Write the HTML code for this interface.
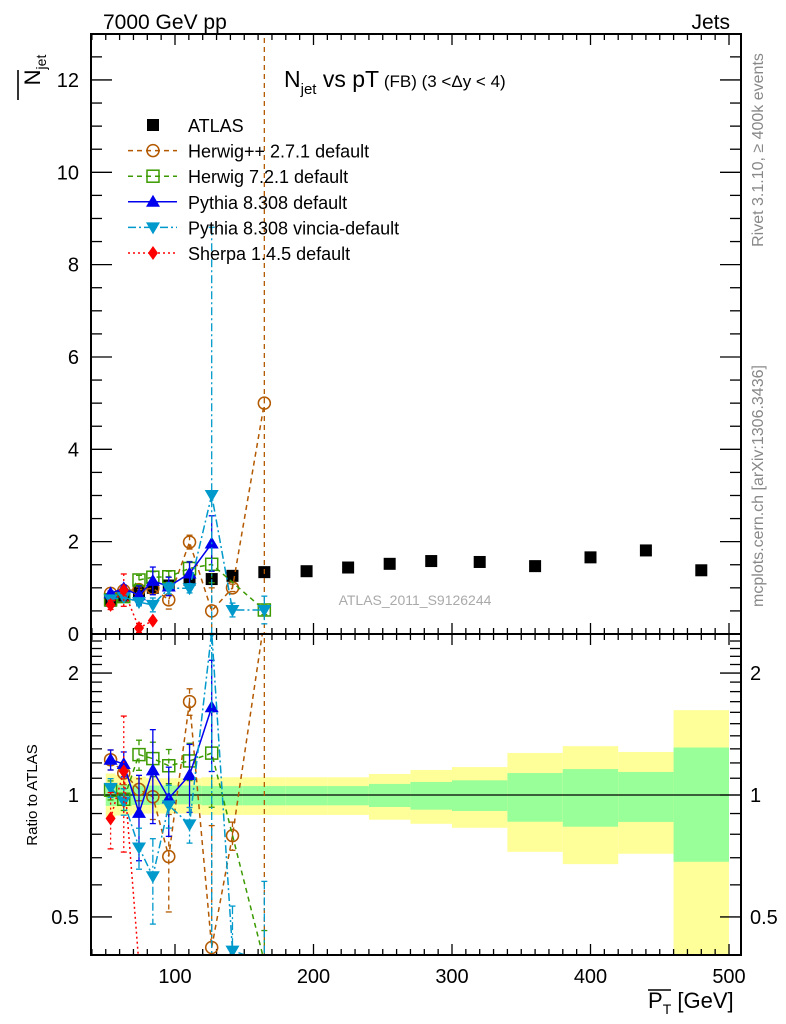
<!DOCTYPE html>
<html><head><meta charset="utf-8">
<style>
html,body{margin:0;padding:0;background:#fff;width:786px;height:1024px;overflow:hidden;}
svg{display:block;font-family:"Liberation Sans",sans-serif;}
</style></head>
<body>
<svg id="chart" width="786" height="1024" viewBox="0 0 786 1024">
<defs>
<clipPath id="clipMain"><rect x="91" y="34" width="650" height="600"/></clipPath>
<clipPath id="clipRatio"><rect x="91" y="634" width="650" height="321"/></clipPath>
</defs>
<g id="bands" clip-path="url(#clipRatio)"></g>
<g id="ticks"></g>
<line x1="91" y1="795" x2="741" y2="795" stroke="#000" stroke-width="1.3"/>
<g id="mainSeries" clip-path="url(#clipMain)"></g>
<g id="ratioSeries" clip-path="url(#clipRatio)"></g>
<rect x="91" y="34" width="650" height="600" fill="none" stroke="#000" stroke-width="2"/>
<rect x="91" y="634" width="650" height="321" fill="none" stroke="#000" stroke-width="2"/>
<text x="103" y="29" font-size="21">7000 GeV pp</text>
<text x="730" y="29" font-size="21" text-anchor="end">Jets</text>
<text x="284" y="87" font-size="23">N<tspan font-size="15" dy="7">jet</tspan><tspan dy="-7"> vs pT</tspan><tspan font-size="17"> (FB) (3 &lt;Δy &lt; 4)</tspan></text>
<g transform="translate(40,70) rotate(-90)">
<text x="0" y="0" font-size="22" text-anchor="middle">N<tspan font-size="14" dy="6">jet</tspan></text>
<line x1="-30" y1="-22" x2="0" y2="-22" stroke="#000" stroke-width="1.6"/>
</g>
<text transform="translate(37,795) rotate(-90)" font-size="15" text-anchor="middle">Ratio to ATLAS</text>
<text transform="translate(763,150) rotate(-90)" font-size="16" fill="#888" text-anchor="middle">Rivet 3.1.10, ≥ 400k events</text>
<text transform="translate(763,486) rotate(-90)" font-size="16" fill="#888" text-anchor="middle">mcplots.cern.ch [arXiv:1306.3436]</text>
<text x="415" y="605" font-size="14" fill="#aaa" text-anchor="middle">ATLAS_2011_S9126244</text>
<g>
<text x="648" y="1008" font-size="22">P<tspan font-size="14" dy="6">T</tspan><tspan dy="-6"> [GeV]</tspan></text>
<line x1="648" y1="990" x2="671" y2="990" stroke="#000" stroke-width="1.6"/>
</g>
<g id="legend"></g>
<script>
const binEdges=[50,57,69,79,89,102,119,134,149,180,210,240,270,300,340,380,420,460,500];
const atlasY=[0.72,0.83,0.93,1.0,1.05,1.17,1.19,1.26,1.34,1.36,1.44,1.52,1.58,1.56,1.47,1.66,1.81,1.38];
const bandInnerUp=[1.06,1.06,1.055,1.055,1.055,1.055,1.052,1.052,1.052,1.052,1.052,1.065,1.077,1.087,1.133,1.159,1.14,1.31];
const bandInnerDn=[0.94,0.94,0.945,0.945,0.948,0.948,0.943,0.943,0.943,0.943,0.943,0.934,0.920,0.913,0.859,0.835,0.858,0.684];
const bandOuterUp=[1.13,1.12,1.11,1.10,1.10,1.10,1.106,1.106,1.106,1.106,1.106,1.127,1.153,1.172,1.27,1.32,1.277,1.62];
const bandOuterDn=[0.88,0.89,0.90,0.90,0.90,0.90,0.893,0.893,0.893,0.893,0.893,0.869,0.849,0.83,0.724,0.675,0.716,0.30];
const herwigppY=[0.88,0.94,0.96,0.99,0.74,1.99,0.5,1.0,5.0];
const herwigppE=[0.05,0.06,0.06,0.12,0.2,0.15,0.5,0.08,9];
const herwig7Y=[0.74,0.81,1.17,1.23,1.24,1.42,1.51,null,0.52];
const herwig7E=[0.04,0.05,0.1,0.12,0.12,0.15,0.4,null,0.1];
const pythiaY=[0.88,0.99,0.84,1.15,1.03,1.31,1.96];
const pythiaE=[0.05,0.07,0.2,0.3,0.2,0.25,0.6];
const vinciaY=[0.75,0.80,0.69,0.63,0.99,0.99,3.01,0.52,0.52];
const vinciaE=[0.04,0.06,0.08,0.15,0.12,0.1,5.8,0.15,0.3];
const sherpaY=[0.63,0.95,0.13,0.29];
const sherpaE=[0.1,0.35,0.1,0.05];
const xTickLabels=["100","200","300","400","500"];
const yTickLabels=["0","2","4","6","8","10","12"];
const rTickLabels=["0.5","1","2"];
const legendLabels=["ATLAS","Herwig++ 2.7.1 default","Herwig 7.2.1 default","Pythia 8.308 default","Pythia 8.308 vincia-default","Sherpa 1.4.5 default"];

const NS="http://www.w3.org/2000/svg";
const clamp=(v,a,b)=>Math.min(b,Math.max(a,v));
const X=v=>36.5+1.385*v;
const Y=v=>clamp(634-46.17*v,20,645);
const R=v=>clamp(795-405*Math.log10(v),620,965);
const centers=binEdges.slice(0,-1).map((e,i)=>(e+binEdges[i+1])/2);
function mk(tag,attrs,parent){const e=document.createElementNS(NS,tag);for(const k in attrs)e.setAttribute(k,attrs[k]);parent.appendChild(e);return e;}

const bands=document.getElementById('bands');
centers.forEach((c,i)=>{
  const x0=X(binEdges[i]),x1=X(binEdges[i+1]);
  const o=mk('rect',{x:x0,y:R(bandOuterUp[i]),width:x1-x0,height:R(bandOuterDn[i])-R(bandOuterUp[i]),fill:'#ffff99'},bands);
  
  
  const g=mk('rect',{x:x0,y:R(bandInnerUp[i]),width:x1-x0,height:R(bandInnerDn[i])-R(bandInnerUp[i]),fill:'#99ff99'},bands);
  
  
});

const ticks=document.getElementById('ticks');
function tl(x1,y1,x2,y2){mk('line',{x1,y1,x2,y2,stroke:'#000','stroke-width':1.3},ticks);}
for(let v=40;v<=500;v+=10){
  const x=X(v);const maj=v%100===0;const L=maj?11:6;
  tl(x,34,x,34+L);tl(x,634,x,634-L);tl(x,634,x,634+L);tl(x,955,x,955-L);
}
xTickLabels.forEach(s=>{const t=mk('text',{x:X(+s),y:983,'font-size':20,'text-anchor':'middle'},ticks);t.textContent=s;
  
  });
for(let v=0;v<=13.001;v+=0.5){
  const y=Y(v);const maj=Math.abs(v%2)<1e-6;const L=maj?21:11;
  tl(91,y,91+L,y);tl(741,y,741-L,y);
}
yTickLabels.forEach(s=>{const t=mk('text',{x:79,y:Y(+s)+7,'font-size':20,'text-anchor':'end'},ticks);t.textContent=s;
  
  });
for(let k=4;k<=24;k++){
  const v=k/10;const y=795-405*Math.log10(v);if(y<634||y>955)continue;
  const maj=(k===5||k===10||k===20);const L=maj?21:11;
  tl(91,y,91+L,y);tl(741,y,741-L,y);
}
rTickLabels.forEach(s=>{const y=R(+s)+7;
  const t=mk('text',{x:79,y,'font-size':20,'text-anchor':'end'},ticks);t.textContent=s;
  
  
  const t2=mk('text',{x:750,y,'font-size':20},ticks);t2.textContent=s;
  
  });

function marker(p,type,x,y,color){
  let e;
  if(type==='sq')e=mk('rect',{x:x-6,y:y-6,width:12,height:12,fill:'#000'},p);
  else if(type==='circ')e=mk('circle',{cx:x,cy:y,r:6,fill:'none',stroke:color,'stroke-width':1.5},p);
  else if(type==='osq')e=mk('rect',{x:x-6,y:y-6,width:12,height:12,fill:'none',stroke:color,'stroke-width':1.5},p);
  else if(type==='up')e=mk('polygon',{points:`${x},${y-7} ${x-7},${y+5} ${x+7},${y+5}`,fill:color},p);
  else if(type==='dn')e=mk('polygon',{points:`${x},${y+7} ${x-7},${y-5} ${x+7},${y-5}`,fill:color},p);
  else if(type==='dia')e=mk('polygon',{points:`${x},${y-7} ${x-5},${y} ${x},${y+7} ${x+5},${y}`,fill:color},p);
  return e;
}
const series=[
  {vals:herwigppY,errs:herwigppE,color:'#b35900',dash:'5,4',mk:'circ',name:'herwigpp'},
  {vals:herwig7Y,errs:herwig7E,color:'#3b9a00',dash:'5,4',mk:'osq',name:'herwig7'},
  {vals:pythiaY,errs:pythiaE,color:'#0000ee',dash:'',mk:'up',name:'pythia'},
  {vals:vinciaY,errs:vinciaE,color:'#0099cc',dash:'8,3,2,3',mk:'dn',name:'vincia'},
  {vals:sherpaY,errs:sherpaE,color:'#ff0000',dash:'2,3',mk:'dia',name:'sherpa'}
];
const mainG=document.getElementById('mainSeries');
const ratG=document.getElementById('ratioSeries');
centers.forEach((c,i)=>{
  const m=marker(mainG,'sq',X(c),Y(atlasY[i]),'#000');
  
  
});
series.forEach(s=>{
  [[mainG,(v,i)=>Y(v)],[ratG,(v,i)=>R(Math.max(v/atlasY[i],0.05))]].forEach(([g,fy],pi)=>{
    const grp=mk('g',{},g);
    
    
    let pts=[];
    s.vals.forEach((v,i)=>{if(v===null)return;pts.push(X(centers[i])+','+fy(v,i));});
    const pl=mk('polyline',{points:pts.join(' '),fill:'none',stroke:s.color,'stroke-width':1.5,'stroke-dasharray':s.dash},grp);
    
    
    s.vals.forEach((v,i)=>{if(v===null)return;
      const x=X(centers[i]);const e=s.errs[i];
      const y1=fy(v+e,i),y2=fy(Math.max(v-e,0.01),i);
      const eb=mk('line',{x1:x,y1,x2:x,y2,stroke:s.color,'stroke-width':1.3,'stroke-dasharray':s.dash},grp);
      
      
      mk('line',{x1:x-3,y1,x2:x+3,y2:y1,stroke:s.color,'stroke-width':1.3},grp);
      mk('line',{x1:x-3,y1:y2,x2:x+3,y2,stroke:s.color,'stroke-width':1.3},grp);
      const m=marker(grp,s.mk,x,fy(v,i),s.color);
      
      
    });
  });
});

const leg=document.getElementById('legend');
const legTypes=[{mk:'sq',color:'#000',dash:null}].concat(series.map(s=>({mk:s.mk,color:s.color,dash:s.dash})));
legendLabels.forEach((lab,i)=>{
  const y=125+i*25.6;
  const g=mk('g',{},leg);
  
  
  const lt=legTypes[i];
  if(lt.dash!==null)mk('line',{x1:128,y1:y,x2:177,y2:y,stroke:lt.color,'stroke-width':1.5,'stroke-dasharray':lt.dash},g);
  marker(g,lt.mk,153,y,lt.color);
  const t=mk('text',{x:188,y:y+7,'font-size':18},g);t.textContent=lab;
});
</script>
</svg>
</body></html>
